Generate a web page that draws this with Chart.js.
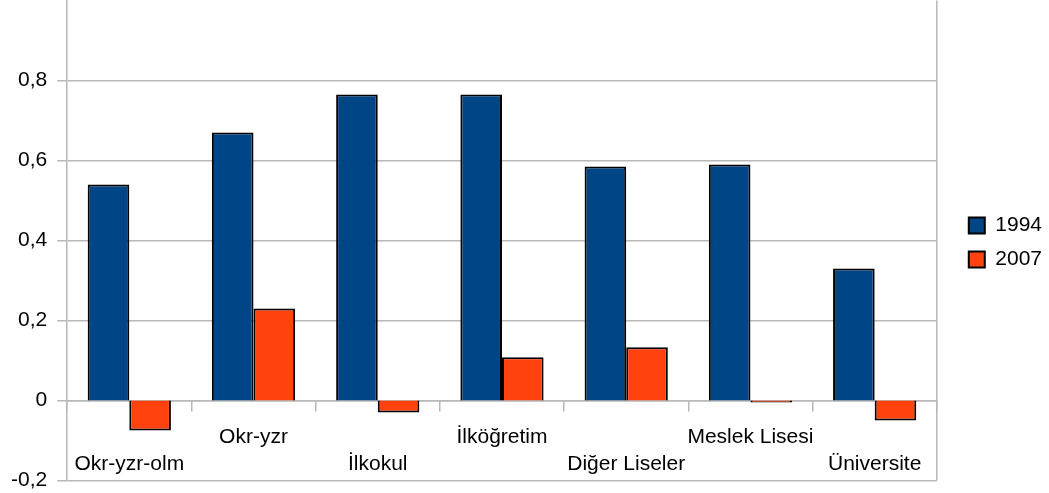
<!DOCTYPE html>
<html>
<head>
<meta charset="utf-8">
<script src="https://cdn.jsdelivr.net/npm/chart.js@4/dist/chart.umd.min.js"></script>
<style>
html,body{margin:0;padding:0;background:#fff;overflow:hidden;}
#wrap{position:absolute;left:0;top:-22px;width:1049px;height:525px;}
</style>
</head>
<body>
<div id="wrap"><canvas id="c" width="1049" height="525"></canvas></div>
<script>
const categories = [
  ['', 'Okr-yzr-olm'],
  ['Okr-yzr', ''],
  ['', 'İlkokul'],
  ['İlköğretim', ''],
  ['', 'Diğer Liseler'],
  ['Meslek Lisesi', ''],
  ['', 'Üniversite']
];
const series1994 = [0.54, 0.67, 0.765, 0.765, 0.585, 0.59, 0.33];
const series2007 = [-0.075, 0.23, -0.03, 0.108, 0.133, -0.005, -0.05];
const seriesNames = ['1994', '2007'];
const yMin = -0.2, yMax = 1.0, yStep = 0.2;

const FONT = "'Liberation Sans', Arial, sans-serif";
const GRID = '#b8b8b8';

const frame = {
  id: 'frame',
  afterLayout(chart) {
    const lg = chart.legend;
    if (lg) { lg.left += 19; lg.right += 19; lg.top += 2; lg.bottom += 2; }
  },
  beforeDatasetsDraw(chart) {
    const a = chart.chartArea, ctx = chart.ctx;
    ctx.save();
    ctx.strokeStyle = GRID;
    ctx.lineWidth = 1.5;
    ctx.beginPath();
    ctx.moveTo(a.right, a.top);
    ctx.lineTo(a.right, a.bottom);
    ctx.stroke();
    ctx.restore();
  }
};

new Chart(document.getElementById('c'), {
  type: 'bar',
  data: {
    labels: categories,
    datasets: [
      { label: seriesNames[0], data: series1994, backgroundColor: '#004586', borderColor: '#000', borderWidth: 2 },
      { label: seriesNames[1], data: series2007, backgroundColor: '#ff420e', borderColor: '#000', borderWidth: 2 }
    ]
  },
  options: {
    responsive: false,
    animation: false,
    devicePixelRatio: 1,
    layout: { padding: { left: 1, right: 16, top: 0, bottom: 0 } },
    datasets: { bar: { categoryPercentage: 0.67, barPercentage: 1.0 } },
    plugins: {
      title: { display: false },
      tooltip: { enabled: false },
      legend: {
        position: 'right',
        labels: {
          color: '#000',
          font: { family: FONT, size: 21 },
          boxWidth: 16,
          boxHeight: 16,
          padding: 13
        }
      }
    },
    scales: {
      x: {
        position: { y: 0 },
        offset: true,
        grid: { display: true, drawOnChartArea: false, drawTicks: true, tickLength: 10, color: GRID, lineWidth: 1.5, offset: true },
        border: { display: true, color: GRID, width: 1.5 },
        ticks: {
          color: '#000',
          font: { family: FONT, size: 21, lineHeight: 1.3 },
          maxRotation: 0, minRotation: 0, autoSkip: false, padding: 13
        }
      },
      y: {
        min: yMin, max: yMax,
        grid: { color: GRID, lineWidth: 1.5, tickLength: 10 },
        border: { display: true, color: GRID, width: 1.5 },
        ticks: {
          stepSize: yStep,
          color: '#000',
          font: { family: FONT, size: 21 },
          padding: 10,
          callback: (v) => {
            if (Math.abs(v - yMax) < 1e-9) return null;
            if (Math.abs(v) < 1e-9) return '0';
            return v.toFixed(1).replace('.', ',');
          }
        }
      }
    }
  },
  plugins: [frame]
});
</script>
</body>
</html>
